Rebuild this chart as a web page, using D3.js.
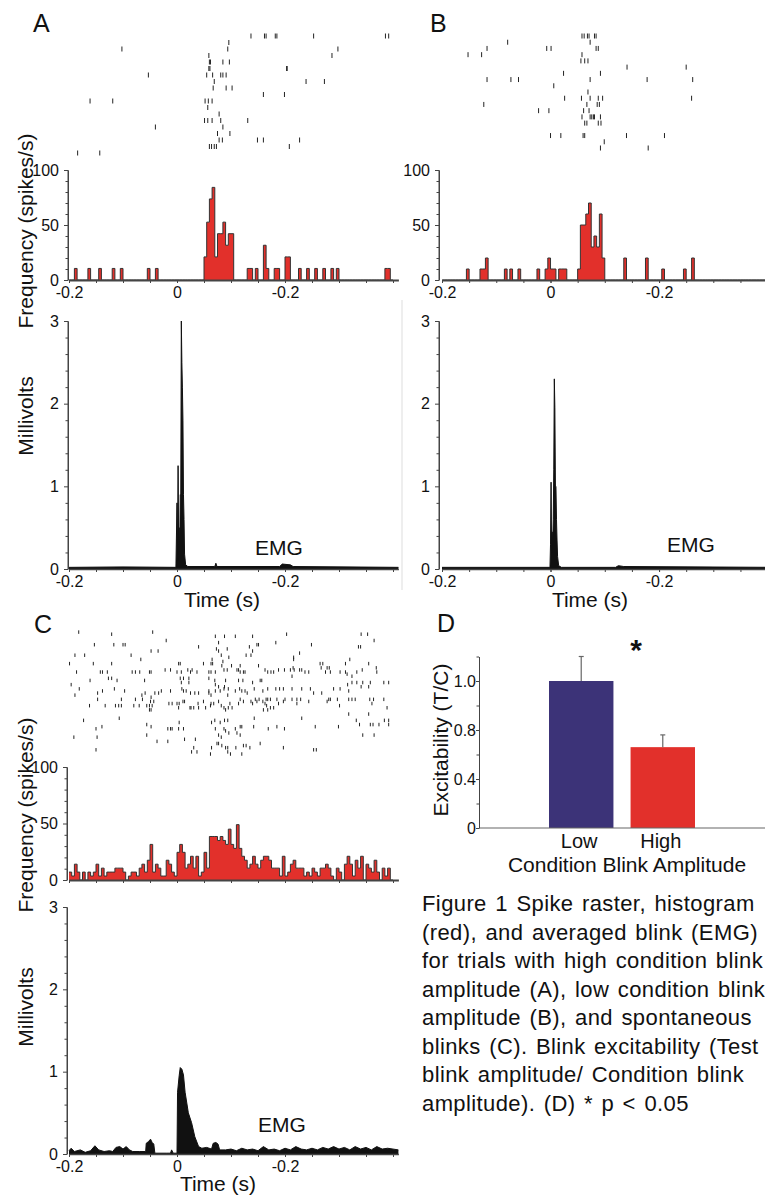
<!DOCTYPE html>
<html>
<head>
<meta charset="utf-8">
<script src="https://cdn.jsdelivr.net/npm/d3@7"></script>
<style>
  body { margin: 0; background: #fff; }
  svg { display: block; font-family: "Liberation Sans", Arial, sans-serif; }
</style>
</head>
<body>
<div id="fig"></div>
<script>
//time bins of the histograms (s)
var binWidth = 0.005;
var nBins = 120;

//x tick labels as printed in the figure
var xTickVals = [-0.2, 0, 0.2];
var xTickText = ["-0.2", "0", "-0.2"];
var xMinorTicks = [-0.2, -0.15, -0.1, -0.05, 0, 0.05, 0.1, 0.15, 0.2, 0.25, 0.3, 0.35, 0.4];

//raster A, one list of spike times per trial
var rasterA = [
  [0.137, 0.162, 0.165, 0.182, 0.185, 0.253, 0.386, 0.392],
  [0.096],
  [-0.102, 0.094, 0.298],
  [0.059, 0.287],
  [0.060, 0.062, 0.085, 0.097],
  [0.059, 0.061, 0.203, 0.204],
  [-0.053, 0.055, 0.066, 0.081, 0.085, 0.091],
  [0.069, 0.239, 0.273],
  [0.067, 0.091, 0.102],
  [0.160, 0.199],
  [-0.161, -0.119, 0.052, 0.058, 0.065],
  [0.057],
  [0.078],
  [0.051, 0.057, 0.065, 0.081, 0.131],
  [-0.040, 0.085],
  [0.075, 0.098],
  [0.078, 0.084, 0.149, 0.160, 0.227],
  [0.060, 0.064, 0.069, 0.073, 0.208],
  [-0.184, -0.143]
];

//raster B
var rasterB = [
  [0.058, 0.062, 0.068, 0.071, 0.081, 0.084],
  [-0.079, 0.073],
  [-0.117, -0.007, 0.001, 0.084, 0.088],
  [-0.152, -0.127, 0.058],
  [0.056, 0.063, 0.069],
  [0.141, 0.250],
  [0.024, 0.092],
  [-0.117, -0.073, -0.059, 0.073, 0.178, 0.262],
  [0.006],
  [0.069],
  [0.026, 0.057, 0.073, 0.088, 0.096, 0.260],
  [-0.123, 0.067, 0.086, 0.090],
  [-0.022, -0.003, 0.061, 0.071],
  [0.058, 0.073, 0.076, 0.079, 0.081, 0.092],
  [0.063, 0.067, 0.088, 0.093],
  [],
  [0.000, 0.019, 0.060, 0.063, 0.140, 0.210],
  [0.099],
  [0.092, 0.180]
];

//raster C, [trial, spike time]
var rasterC = [
  [1,-0.182],[2,-0.121],[1,-0.045],[5,-0.020],[3,0.071],[3,0.088],[6,0.077],
  [7,-0.153],[7,-0.117],[7,-0.100],[7,-0.096],[8,0.040],[9,0.073],[9,0.093],
  [10,-0.048],[10,-0.035],[10,0.077],
  [12,-0.189],[12,-0.171],[12,-0.085],[12,0.082],[13,0.096],
  [14,-0.067],[14,0.065],[15,0.085],
  [16,-0.199],[16,-0.155],[16,-0.121],[16,0.003],[16,0.006],[16,0.049],[16,0.063],[16,0.066],[17,0.083],[17,0.101],
  [19,-0.022],[19,-0.012],[20,0.000],[20,0.008],[19,0.020],[19,0.028],[20,0.025],[20,0.037],[20,0.059],[20,0.063],[20,0.071],[19,0.087],[19,0.093],
  [20,-0.186],[20,-0.142],[20,-0.138],[20,-0.129],[20,-0.083],[20,-0.077],[20,-0.069],[20,-0.051],[20,-0.048],
  [23,-0.127],[23,-0.121],[24,-0.060],[23,0.006],[23,0.012],[23,0.022],[23,0.059],
  [24,-0.161],[24,-0.111],[25,0.008],[25,0.022],[24,0.070],[24,0.090],
  [26,-0.196],[26,0.071],[27,0.077],[27,0.088],
  [28,-0.181],[29,-0.138],[28,-0.116],[29,-0.097],[31,-0.065],[30,-0.059],[30,-0.041],[30,-0.034],[29,-0.029],[29,-0.012],
  [28,0.009],[29,0.012],[29,0.017],[30,0.025],[30,0.033],[30,0.040],[29,0.059],[29,0.071],[29,0.080],[28,0.087],[28,0.095],
  [31,-0.189],[30,-0.147],[30,0.059],[31,0.063],[31,0.094],
  [33,-0.147],[33,-0.103],[33,-0.077],[33,-0.064],[32,-0.048],[34,-0.049],[34,-0.043],
  [35,-0.015],[35,-0.009],[35,0.000],[35,0.004],[34,0.011],[34,0.014],[35,0.039],[34,0.049],[35,0.063],[35,0.068],[34,0.077],[35,0.098],
  [36,-0.162],[36,-0.133],[36,-0.114],[36,-0.108],[36,-0.103],[36,-0.080],[36,-0.070],[36,-0.056],[36,-0.051],[36,-0.046],
  [37,0.003],[37,0.024],[37,0.026],[37,0.031],[37,0.040],[37,0.053],[36,0.062],[36,0.082],[37,0.087],[37,0.095],[37,0.102],
  [38,-0.051],[38,-0.048],[38,0.090],[42,-0.107],
  [43,-0.173],[45,-0.056],[46,-0.048],[44,0.004],[44,0.064],[43,0.070],[44,0.080],[43,0.088],[43,0.094],[46,-0.139],
  [47,-0.150],[47,-0.017],[47,-0.012],[47,-0.009],[47,0.003],[47,0.012],[47,0.071],[47,0.087],[48,0.090],[49,0.096],
  [50,-0.056],[51,-0.148],[51,-0.191],[50,0.077],[51,0.082],
  [53,-0.037],[53,-0.017],[52,0.014],[52,0.034],[54,0.074],[54,0.077],[55,0.083],
  [56,0.064],[56,0.090],[56,0.094],[56,0.031],
  [57,-0.150],[58,0.027],[58,0.037],[59,0.062],[58,0.094],[59,0.099],
  [3,0.108],[3,0.140],[2,0.203],[2,0.341],[2,0.353],[5,0.365],
  [8,0.134],[7,0.148],[7,0.151],[6,0.183],[7,0.249],[8,0.336],[8,0.340],
  [10,0.140],[11,0.227],[12,0.128],[12,0.137],[13,0.216],[14,0.216],[14,0.320],[16,0.312],[16,0.355],[16,0.265],[16,0.270],
  [17,0.117],[17,0.151],[18,0.267],[18,0.278],[18,0.282],[18,0.369],[19,0.210],
  [19,0.111],[19,0.114],[20,0.117],[20,0.123],[20,0.126],[19,0.163],[20,0.168],[20,0.174],[20,0.179],[19,0.188],[19,0.199],
  [18,0.215],[19,0.217],[19,0.227],[19,0.231],[20,0.237],[20,0.244],[20,0.275],[20,0.284],[20,0.302],[20,0.312],
  [21,0.315],[22,0.324],[20,0.333],[19,0.343],[20,0.370],[22,0.213],
  [24,0.114],[24,0.122],[25,0.140],[24,0.154],[24,0.157],[25,0.324],[25,0.333],[25,0.344],[25,0.358],[25,0.383],[25,0.392],
  [26,0.316],[27,0.341],[27,0.355],
  [29,0.108],[28,0.116],[29,0.120],[29,0.126],[30,0.130],[28,0.143],[29,0.159],[28,0.168],[28,0.183],[28,0.190],[28,0.197],
  [28,0.213],[28,0.231],[28,0.247],[30,0.253],[30,0.268],[28,0.290],[28,0.302],[29,0.318],
  [33,0.117],[34,0.123],[33,0.145],[33,0.152],[33,0.165],[33,0.168],[33,0.173],[33,0.185],[33,0.200],[33,0.213],[33,0.222],
  [33,0.229],[33,0.281],[33,0.284],[33,0.297],[33,0.318],[33,0.324],[33,0.330],[33,0.357],[33,0.364],[33,0.383],
  [35,0.114],[34,0.137],[35,0.140],[34,0.148],[34,0.159],[35,0.163],[36,0.166],[37,0.173],[37,0.179],[35,0.188],[34,0.197],
  [35,0.222],[34,0.244],[34,0.278],[36,0.301],[35,0.361],[37,0.389],
  [38,0.160],[38,0.168],[40,0.318],[40,0.355],[42,0.231],[42,0.143],
  [43,0.332],[45,0.338],[45,0.358],[45,0.363],[45,0.374],[43,0.384],[43,0.392],[45,0.392],
  [47,0.108],[46,0.117],[46,0.120],[46,0.142],[47,0.169],[46,0.185],[47,0.199],[46,0.256],[46,0.299],
  [49,0.111],[50,0.117],[50,0.344],[50,0.365],
  [55,0.123],[55,0.128],[56,0.135],[56,0.109],[54,0.154],[56,0.197],
  [59,0.120],[57,0.253],[57,0.258]
];

//histogram A, [bin start (s), rate (spikes/s)], empty bins left out
var histA = [
  [-0.19, 10.5], [-0.165, 10.5], [-0.145, 10.5], [-0.12, 10.5], [-0.105, 10.5], [-0.055, 10.5], [-0.04, 10.5],
  [0.05, 21], [0.055, 52.6], [0.06, 73.7], [0.065, 84.2], [0.07, 21], [0.075, 42.1], [0.08, 42.1],
  [0.085, 52.6], [0.09, 31.6], [0.095, 42.1], [0.1, 42.1],
  [0.13, 10.5], [0.135, 10.5], [0.145, 10.5], [0.16, 31.6], [0.165, 10.5], [0.18, 10.5], [0.185, 10.5],
  [0.2, 21], [0.205, 21], [0.225, 10.5], [0.24, 10.5], [0.255, 10.5], [0.27, 10.5], [0.285, 10.5],
  [0.295, 10.5], [0.385, 10.5], [0.39, 10.5]
];

//histogram B
var histB = [
  [-0.155, 10], [-0.13, 10], [-0.125, 10], [-0.12, 20], [-0.085, 10], [-0.075, 10], [-0.06, 10],
  [-0.025, 10], [-0.01, 10], [-0.005, 20], [0, 10], [0.005, 10], [0.015, 10], [0.02, 10], [0.025, 10],
  [0.05, 10], [0.055, 50], [0.06, 50], [0.065, 60], [0.07, 70], [0.075, 30], [0.08, 40], [0.085, 30],
  [0.09, 60], [0.095, 20], [0.135, 20], [0.175, 20], [0.205, 10], [0.245, 10], [0.26, 20]
];

//histogram C, every bin from -0.2 s
var histC = [
  7, 3.5, 14, 7, 0, 7, 0, 7, 3.5, 7,
  14, 3.5, 10.5, 3.5, 7, 7, 7, 10.5, 10.5, 10.5,
  7, 0, 3.5, 7, 7, 3.5, 10.5, 14, 7, 17.5,
  31.5, 7, 14, 10.5, 3.5, 3.5, 17.5, 14, 7, 3.5,
  24.5, 31.5, 24.5, 10.5, 14, 21, 10.5, 21, 3.5, 7,
  24.5, 10.5, 38.5, 38.5, 38.5, 35, 38.5, 35, 31.5, 45,
  31.5, 28, 49, 28, 21, 17.5, 10.5, 14, 21, 14,
  10.5, 17.5, 21, 21, 17.5, 10.5, 10.5, 10.5, 3.5, 21,
  3.5, 7, 14, 17.5, 10.5, 10.5, 10.5, 3.5, 7, 3.5,
  10.5, 7, 3.5, 10.5, 10.5, 14, 10.5, 3.5, 0, 10.5,
  7, 0, 14, 21, 14, 3.5, 17.5, 10.5, 21, 0,
  14, 10.5, 7, 17.5, 7, 0, 10.5, 3.5, 10.5, 0
];

//averaged EMG, [time (s), millivolts]
var emgA = [
  [-0.2, 0.02], [-0.1, 0.025], [-0.002, 0.02], [0.0, 0.8], [0.001, 0.1], [0.002, 1.25], [0.003, 0.3],
  [0.004, 0.5], [0.005, 0.2], [0.006, 0.9], [0.007, 0.9], [0.008, 3.0], [0.009, 2.5], [0.010, 2.2],
  [0.011, 1.8], [0.012, 0.9], [0.013, 0.6], [0.014, 0.18], [0.016, 0.05], [0.02, 0.03], [0.07, 0.03],
  [0.072, 0.07], [0.074, 0.03], [0.19, 0.03], [0.195, 0.06], [0.21, 0.05], [0.215, 0.03], [0.41, 0.02]
];
var emgB = [
  [-0.2, 0.02], [-0.001, 0.02], [0.0, 0.3], [0.001, 1.05], [0.002, 0.2], [0.003, 0.45], [0.004, 0.3],
  [0.005, 0.6], [0.006, 1.2], [0.007, 2.3], [0.008, 1.95], [0.009, 1.0], [0.010, 1.0], [0.011, 0.6],
  [0.012, 0.35], [0.013, 0.15], [0.015, 0.04], [0.02, 0.02], [0.12, 0.02], [0.125, 0.04], [0.135, 0.03],
  [0.41, 0.02]
];
var emgC = [
  [-0.2, 0.04], [-0.196, 0.07], [-0.19, 0.03], [-0.179, 0.05], [-0.17, 0.02], [-0.16, 0.04], [-0.152, 0.1],
  [-0.145, 0.05], [-0.135, 0.03], [-0.125, 0.04], [-0.119, 0.03], [-0.113, 0.08], [-0.106, 0.09], [-0.1, 0.06],
  [-0.094, 0.09], [-0.088, 0.05], [-0.082, 0.03], [-0.07, 0.03], [-0.058, 0.03], [-0.057, 0.13], [-0.053, 0.15],
  [-0.049, 0.18], [-0.046, 0.14], [-0.043, 0.12], [-0.041, 0.01], [-0.02, 0.01], [-0.012, 0.01], [-0.01, 0.05],
  [-0.007, 0.01], [0.0, 0.01], [0.001, 0.75], [0.004, 0.95], [0.006, 1.05], [0.009, 1.03], [0.012, 0.96],
  [0.015, 0.75], [0.021, 0.5], [0.027, 0.38], [0.033, 0.21], [0.04, 0.09], [0.046, 0.07], [0.055, 0.08],
  [0.064, 0.06], [0.067, 0.13], [0.072, 0.14], [0.076, 0.12], [0.079, 0.05], [0.09, 0.05], [0.1, 0.06],
  [0.11, 0.04], [0.12, 0.07], [0.13, 0.05], [0.14, 0.06], [0.15, 0.04], [0.16, 0.09], [0.17, 0.05],
  [0.18, 0.06], [0.19, 0.04], [0.2, 0.07], [0.21, 0.05], [0.22, 0.09], [0.23, 0.06], [0.24, 0.05],
  [0.25, 0.07], [0.26, 0.05], [0.27, 0.08], [0.28, 0.06], [0.29, 0.09], [0.3, 0.06], [0.31, 0.08],
  [0.32, 0.05], [0.33, 0.09], [0.34, 0.06], [0.35, 0.08], [0.36, 0.05], [0.37, 0.09], [0.38, 0.06],
  [0.39, 0.07], [0.41, 0.05]
];

//panel D
var excitCategories = ["Low", "High"];
var excitValues = [1.0, 0.66];
var excitErrors = [0.1, 0.1];
var excitTicks = [0, 0.4, 0.8, 1.0];
var excitMinorTicks = [0.2, 0.6, 0.9, 1.1];

var captionLines = [
  "Figure 1 Spike raster, histogram",
  "(red), and averaged blink (EMG)",
  "for trials with high condition blink",
  "amplitude (A), low condition blink",
  "amplitude (B), and spontaneous",
  "blinks (C).  Blink excitability (Test",
  "blink amplitude/ Condition blink",
  "amplitude). (D) * p < 0.05"
];

var red = "#e2302b";
var blue = "#3c3378";
var axisColor = "#444";
var tickFont = "16px";

var svg = d3
  .select("#fig")
  .append("svg")
  .attr("width", 765)
  .attr("height", 1196);

//turn a sparse list of bins into one value per bin
var denseHist = function(sparse) {
  var out = [];
  for (var i = 0; i < nBins; i++) out.push(0);
  sparse.forEach(function(d) {
    out[Math.round((d[0] + 0.2) / binWidth)] = d[1];
  });
  return out;
};

var styleAxis = function(g, width) {
  g.selectAll(".domain").attr("stroke", axisColor).attr("stroke-width", width);
  g.selectAll(".tick line").attr("stroke", axisColor);
  g.selectAll("text")
    .attr("fill", "#111")
    .style("font-size", tickFont)
    .style("font-family", "Liberation Sans, Arial, sans-serif");
};

//time axis with small ticks every 50 ms, labels only where asked
var drawTimeAxis = function(x, y0, width, labels) {
  var minor = svg
    .append("g")
    .attr("transform", "translate(0," + y0 + ")")
    .call(d3.axisBottom(x).tickValues(xMinorTicks).tickSize(3).tickSizeOuter(0).tickFormat(""));
  styleAxis(minor, width);
  if (!labels) return;
  var major = svg
    .append("g")
    .attr("transform", "translate(0," + y0 + ")")
    .call(
      d3.axisBottom(x)
        .tickValues(xTickVals)
        .tickSize(3)
        .tickPadding(4)
        .tickSizeOuter(0)
        .tickFormat(function(d, i) { return xTickText[i]; })
    );
  styleAxis(major, width);
  major.select(".domain").remove();
};

var drawValueAxis = function(y, x0, majorTicks, minorTicks, fmt, size, pad) {
  var minor = svg
    .append("g")
    .attr("transform", "translate(" + x0 + ",0)")
    .call(d3.axisLeft(y).tickValues(minorTicks).tickSize(2.5).tickSizeOuter(0).tickFormat(""));
  styleAxis(minor, 1);
  var major = svg
    .append("g")
    .attr("transform", "translate(" + x0 + ",0)")
    .call(d3.axisLeft(y).tickValues(majorTicks).tickSize(size || 4).tickPadding(pad === undefined ? 5 : pad).tickSizeOuter(0).tickFormat(fmt));
  styleAxis(major, 1);
  major.select(".domain").remove();
};

var drawRaster = function(x, y, spikes, len) {
  svg
    .append("g")
    .selectAll("line")
    .data(spikes)
    .enter()
    .append("line")
    .attr("x1", function(d) { return x(d.t); })
    .attr("x2", function(d) { return x(d.t); })
    .attr("y1", function(d) { return y(d.trial) - len / 2; })
    .attr("y2", function(d) { return y(d.trial) + len / 2; })
    .attr("stroke", "#222")
    .attr("stroke-width", 1);
};

var rowsToSpikes = function(rows) {
  var spikes = [];
  rows.forEach(function(row, i) {
    row.forEach(function(t) { spikes.push({ trial: i, t: t }); });
  });
  return spikes;
};

var drawHist = function(x, y, rates) {
  var pts = rates.map(function(r, i) { return [-0.2 + i * binWidth, r]; });
  pts.push([-0.2 + nBins * binWidth, 0]);
  var area = d3.area()
    .curve(d3.curveStepAfter)
    .x(function(d) { return x(d[0]); })
    .y0(y(0))
    .y1(function(d) { return y(d[1]); });
  var line = d3.line()
    .curve(d3.curveStepAfter)
    .x(function(d) { return x(d[0]); })
    .y(function(d) { return y(d[1]); });
  svg.append("path").datum(pts).attr("d", area).attr("fill", red);
  svg.append("path").datum(pts).attr("d", line)
    .attr("fill", "none").attr("stroke", "#333").attr("stroke-width", 1);
};

var drawEmg = function(x, y, pts) {
  var area = d3.area()
    .x(function(d) { return x(d[0]); })
    .y0(y(0))
    .y1(function(d) { return y(d[1]); });
  var line = d3.line()
    .x(function(d) { return x(d[0]); })
    .y(function(d) { return y(d[1]); });
  svg.append("path").datum(pts).attr("d", area).attr("fill", "#111");
  svg.append("path").datum(pts).attr("d", line)
    .attr("fill", "none").attr("stroke", "#111").attr("stroke-width", 1);
};

var addText = function(txt, x, y, size, anchor, rotate) {
  var t = svg.append("text")
    .attr("font-size", size)
    .attr("fill", "#111")
    .attr("text-anchor", anchor || "start")
    .text(txt);
  if (rotate) {
    t.attr("transform", "translate(" + x + "," + y + ") rotate(-90)");
  } else {
    t.attr("x", x).attr("y", y);
  }
  return t;
};

var histTicks = [0, 50, 100];
var histMinor = [10, 20, 30, 40, 60, 70, 80, 90];
var emgTicks = [0, 1, 2, 3];
var emgMinor = [0.2, 0.4, 0.6, 0.8, 1.2, 1.4, 1.6, 1.8, 2.2, 2.4, 2.6, 2.8];

//---------- panel A ----------
var xA = d3.scaleLinear().domain([-0.2, 0.41]).range([69, 398.4]);
var rowA = d3.scaleLinear().domain([0, 18]).range([36, 153]);
var yHistA = d3.scaleLinear().domain([0, 100]).range([280, 170]);
var yEmgA = d3.scaleLinear().domain([0, 3]).range([569, 321]);

drawRaster(xA, rowA, rowsToSpikes(rasterA), 5);
drawHist(xA, yHistA, denseHist(histA));
drawTimeAxis(xA, 280, 1.8, true);
svg.append("line").attr("x1", 68).attr("x2", 68).attr("y1", yHistA(0)).attr("y2", yHistA(100)).attr("stroke", axisColor);
drawValueAxis(yHistA, 68, histTicks, histMinor, d3.format("d"));

drawEmg(xA, yEmgA, emgA);
drawTimeAxis(xA, 569, 1.4, true);
svg.append("line").attr("x1", 68).attr("x2", 68).attr("y1", yEmgA(0)).attr("y2", yEmgA(3)).attr("stroke", axisColor);
drawValueAxis(yEmgA, 68, emgTicks, emgMinor, d3.format("d"));

addText("A", 33, 32, 25);
addText("Frequency (spikes/s)", 33, 231, 21, "middle", true);
addText("Millivolts", 33, 416, 21, "middle", true);
addText("EMG", 255, 555, 21);
addText("Time (s)", 222, 607, 21, "middle");

//thin separator between A and B
svg.append("line").attr("x1", 402).attr("x2", 402).attr("y1", 300).attr("y2", 590)
  .attr("stroke", "#ddd").attr("stroke-width", 1);

//---------- panel B ----------
var xB = d3.scaleLinear().domain([-0.2, 0.41]).range([442, 773]);
var rowB = d3.scaleLinear().domain([0, 18]).range([36, 148]);
var yHistB = d3.scaleLinear().domain([0, 100]).range([280, 170]);
var yEmgB = d3.scaleLinear().domain([0, 3]).range([569, 321]);

drawRaster(xB, rowB, rowsToSpikes(rasterB), 5);
drawHist(xB, yHistB, denseHist(histB));
drawTimeAxis(xB, 280, 1.8, true);
svg.append("line").attr("x1", 439).attr("x2", 439).attr("y1", yHistB(0)).attr("y2", yHistB(100)).attr("stroke", axisColor);
drawValueAxis(yHistB, 439, histTicks, histMinor, d3.format("d"));

drawEmg(xB, yEmgB, emgB);
drawTimeAxis(xB, 569, 1.4, true);
svg.append("line").attr("x1", 439).attr("x2", 439).attr("y1", yEmgB(0)).attr("y2", yEmgB(3)).attr("stroke", axisColor);
drawValueAxis(yEmgB, 439, emgTicks, emgMinor, d3.format("d"));

addText("B", 430, 32, 25);
addText("EMG", 667, 552, 21);
addText("Time (s)", 590, 607, 21, "middle");

//---------- panel C ----------
var xC = d3.scaleLinear().domain([-0.2, 0.41]).range([69, 398.4]);
var rowC = d3.scaleLinear().domain([0, 59]).range([630, 754]);
var yHistC = d3.scaleLinear().domain([0, 100]).range([880, 767]);
var yEmgC = d3.scaleLinear().domain([0, 3]).range([1154, 907]);

var spikesC = rasterC.map(function(d) { return { trial: d[0], t: d[1] }; });
drawRaster(xC, rowC, spikesC, 3.5);
drawHist(xC, yHistC, histC);
drawTimeAxis(xC, 880, 1.8, false);
svg.append("line").attr("x1", 67).attr("x2", 67).attr("y1", yHistC(0)).attr("y2", yHistC(100)).attr("stroke", axisColor);
drawValueAxis(yHistC, 67, histTicks, histMinor, d3.format("d"));

drawEmg(xC, yEmgC, emgC);
drawTimeAxis(xC, 1154, 1.4, true);
svg.append("line").attr("x1", 67).attr("x2", 67).attr("y1", yEmgC(0)).attr("y2", yEmgC(3)).attr("stroke", axisColor);
drawValueAxis(yEmgC, 67, emgTicks, emgMinor, d3.format("d"));

addText("C", 34, 633, 25);
addText("Frequency (spikes/s)", 33, 815, 21, "middle", true);
addText("Millivolts", 33, 1007, 21, "middle", true);
addText("EMG", 258, 1132, 21);
addText("Time (s)", 218, 1191, 21, "middle");

//---------- panel D ----------
var xD = d3.scaleBand().domain(excitCategories).range([549, 695]).paddingInner(0.21).paddingOuter(0);
var yD = d3.scaleLinear().domain([0, 0.4, 0.8, 1.0, 1.1]).range([828, 779, 730, 681, 656.5]);

svg.append("g")
  .selectAll("rect")
  .data(excitValues)
  .enter()
  .append("rect")
  .attr("x", function(d, i) { return xD(excitCategories[i]); })
  .attr("width", xD.bandwidth())
  .attr("y", function(d) { return yD(d); })
  .attr("height", function(d) { return yD(0) - yD(d); })
  .attr("fill", function(d, i) { return i === 0 ? blue : red; });

var errG = svg.append("g").selectAll("g").data(excitValues).enter().append("g");
errG.append("line")
  .attr("x1", function(d, i) { return xD(excitCategories[i]) + xD.bandwidth() / 2; })
  .attr("x2", function(d, i) { return xD(excitCategories[i]) + xD.bandwidth() / 2; })
  .attr("y1", function(d) { return yD(d); })
  .attr("y2", function(d, i) { return yD(d + excitErrors[i]); })
  .attr("stroke", "#666").attr("stroke-width", 1.2);
errG.append("line")
  .attr("x1", function(d, i) { return xD(excitCategories[i]) + xD.bandwidth() / 2 - 2.5; })
  .attr("x2", function(d, i) { return xD(excitCategories[i]) + xD.bandwidth() / 2 + 2.5; })
  .attr("y1", function(d, i) { return yD(d + excitErrors[i]); })
  .attr("y2", function(d, i) { return yD(d + excitErrors[i]); })
  .attr("stroke", "#666").attr("stroke-width", 1.2);

//axes of D, labels sit right against the short ticks
svg.append("line").attr("x1", 479).attr("x2", 765).attr("y1", yD(0)).attr("y2", yD(0))
  .attr("stroke", "#666").attr("stroke-width", 1.2);
drawValueAxis(yD, 479, excitTicks, excitMinorTicks,
  function(d) { return d === 0 ? "0" : d3.format(".1f")(d); }, 3, 0);

svg.append("g")
  .selectAll("text")
  .data(excitCategories)
  .enter()
  .append("text")
  .attr("x", function(d) { return xD(d) + xD.bandwidth() / 2 - 2; })
  .attr("y", 848)
  .attr("text-anchor", "middle")
  .attr("font-size", 20)
  .attr("fill", "#111")
  .text(function(d) { return d; });

addText("D", 437, 632, 25);
addText("*", 636, 660, 30, "middle").attr("font-weight", "bold");
addText("Excitability (T/C)", 448, 740, 21, "middle", true);
addText("Condition Blink Amplitude", 627, 872, 21, "middle");

//caption
svg.append("g")
  .selectAll("text")
  .data(captionLines)
  .enter()
  .append("text")
  .attr("x", 422)
  .attr("y", function(d, i) { return 911 + i * 28.5; })
  .attr("font-size", 22)
  .attr("letter-spacing", 0.4)
  .attr("word-spacing", 2)
  .attr("fill", "#111")
  .text(function(d) { return d; });
</script>
</body>
</html>
